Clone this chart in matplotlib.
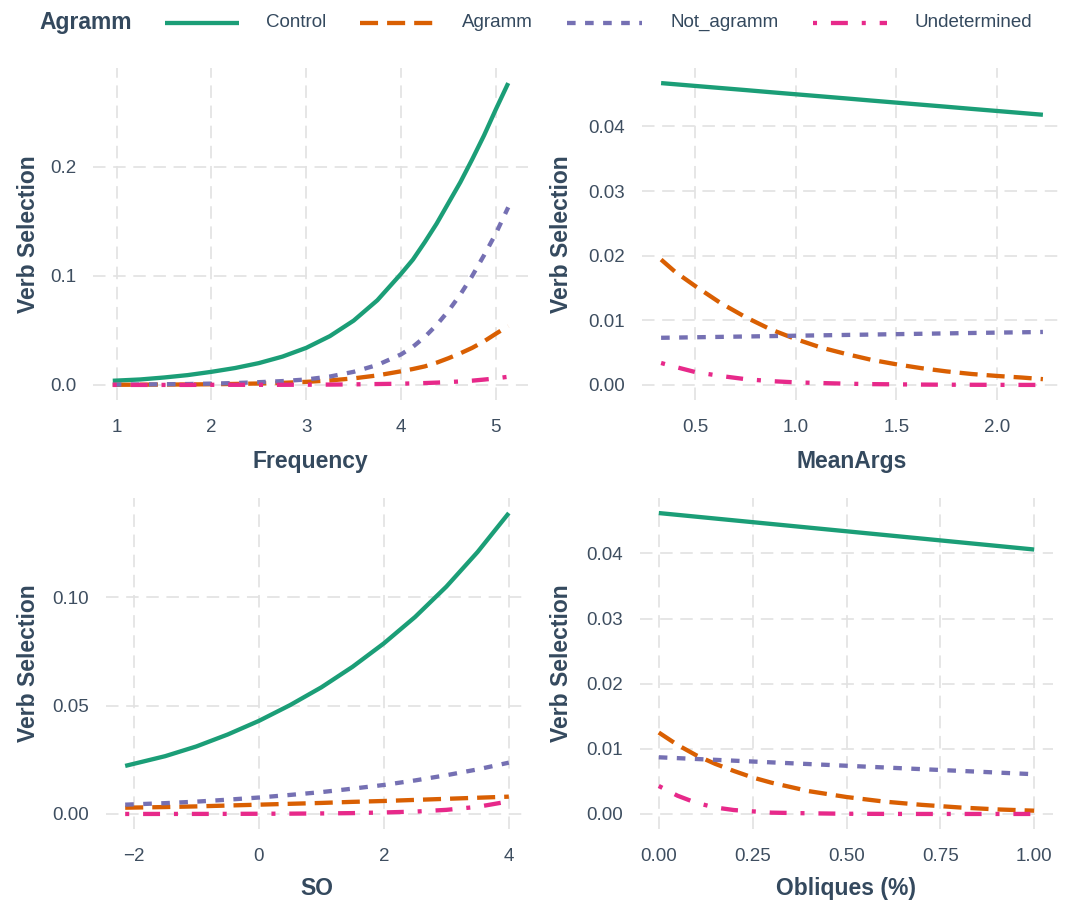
import matplotlib
matplotlib.use("Agg")
import matplotlib.pyplot as plt
import matplotlib.ticker as mticker
from matplotlib.lines import Line2D

plt.rcParams['font.family'] = ['Liberation Sans', 'DejaVu Sans']
plt.rcParams['lines.scale_dashes'] = False

# ---------------- data ----------------
groups = ["Control", "Agramm", "Not_agramm", "Undetermined"]

freq_x = [0.96, 1.25, 1.5, 1.75, 2.0, 2.25, 2.5, 2.75, 3.0, 3.25, 3.5, 3.75,
          4.0, 4.125, 4.25, 4.375, 4.5, 4.625, 4.75, 4.875, 5.0, 5.13]
freq_control = [0.0038, 0.005, 0.0068, 0.009, 0.012, 0.0155, 0.020, 0.026, 0.034, 0.0448, 0.059, 0.0777,
                0.102, 0.115, 0.131, 0.148, 0.167, 0.186, 0.207, 0.229, 0.253, 0.277]
freq_agramm = [0.0001, 0.0002, 0.0003, 0.0004, 0.0006, 0.0009, 0.0013, 0.0019, 0.0028, 0.0041, 0.006, 0.0087,
               0.0125, 0.0146, 0.017, 0.0204, 0.0245, 0.029, 0.034, 0.040, 0.047, 0.054]
freq_notagr = [0.0003, 0.0004, 0.0006, 0.0008, 0.0012, 0.0017, 0.0025, 0.0035, 0.005, 0.0077, 0.012, 0.0183,
               0.028, 0.035, 0.044, 0.055, 0.068, 0.083, 0.100, 0.119, 0.139, 0.163]
freq_undet = [0.0, 0.0, 0.0, 0.0, 0.0001, 0.0001, 0.0001, 0.0001, 0.0002, 0.0003, 0.0005, 0.0008,
              0.0011, 0.0014, 0.0017, 0.0021, 0.0026, 0.0032, 0.0039, 0.0049, 0.006, 0.0075]

args_x = [0.33, 0.4, 0.5, 0.625, 0.75, 0.875, 1.0, 1.125, 1.25, 1.375, 1.5,
          1.625, 1.75, 1.875, 2.0, 2.125, 2.23]
args_control = [0.04670, 0.04652, 0.04626, 0.04594, 0.04562, 0.04529, 0.04497, 0.04465, 0.04433, 0.04400,
                0.04368, 0.04336, 0.04304, 0.04271, 0.04239, 0.04207, 0.04180]
args_agramm = [0.0194, 0.0175, 0.0153, 0.0127, 0.0105, 0.0086, 0.0071, 0.0058, 0.0048, 0.0039, 0.0032,
               0.0026, 0.0021, 0.0017, 0.0014, 0.00115, 0.0009]
args_notagr = [0.00730, 0.00733, 0.00738, 0.00744, 0.00750, 0.00756, 0.00762, 0.00768, 0.00774, 0.00780,
               0.00786, 0.00792, 0.00798, 0.00804, 0.00810, 0.00815, 0.00820]
args_undet = [0.0034, 0.0028, 0.0020, 0.0014, 0.0009, 0.0006, 0.0004, 0.0003, 0.0002, 0.00013, 0.0001,
              0.00006, 0.00004, 0.00003, 0.00002, 0.00001, 0.00001]

so_x = [-2.14, -1.5, -1.0, -0.5, 0.0, 0.5, 1.0, 1.5, 2.0, 2.5, 3.0, 3.5, 4.0]
so_control = [0.0222, 0.0267, 0.0312, 0.0367, 0.043, 0.0503, 0.0585, 0.068, 0.0788, 0.091, 0.105, 0.121, 0.139]
so_agramm = [0.0029, 0.0032, 0.0035, 0.0039, 0.0043, 0.0047, 0.0051, 0.0056, 0.0060, 0.0065, 0.0070, 0.0075, 0.0080]
so_notagr = [0.0043, 0.0050, 0.0057, 0.0066, 0.0076, 0.0088, 0.0101, 0.0117, 0.0134, 0.0155, 0.0179, 0.0206, 0.0237]
so_undet = [0.00001, 0.00002, 0.00003, 0.00005, 0.0001, 0.00015, 0.00025, 0.0004, 0.0007, 0.0011, 0.0019, 0.0033, 0.0058]

obl_x = [0.0, 0.05, 0.1, 0.15, 0.2, 0.25, 0.3, 0.4, 0.5, 0.6, 0.7, 0.8, 0.9, 1.0]
obl_control = [0.04620, 0.04592, 0.04564, 0.04536, 0.04508, 0.04480, 0.04452, 0.04396, 0.04340, 0.04284,
               0.04228, 0.04172, 0.04116, 0.04060]
obl_agramm = [0.0125, 0.0106, 0.0090, 0.0077, 0.0066, 0.0056, 0.0048, 0.0035, 0.0026, 0.0019, 0.0014, 0.0010, 0.0007, 0.0005]
obl_notagr = [0.00870, 0.00857, 0.00844, 0.00831, 0.00818, 0.00805, 0.00792, 0.00766, 0.00740, 0.00714,
              0.00688, 0.00662, 0.00636, 0.00610]
obl_undet = [0.0043, 0.0028, 0.0017, 0.0010, 0.0006, 0.0004, 0.0002, 0.0001, 0.00003, 0.00001, 0.0, 0.0, 0.0, 0.0]

x_labels = ["Frequency", "MeanArgs", "SO", "Obliques (%)"]
y_label = "Verb Selection"

# ---------------- styling ----------------
W, H = 1067, 901
colors = ["#1B9E77", "#D95F02", "#7570B3", "#E7298A"]
LW = 3.1
styles = ["-", (0, (13, 6.5)), (0, (6.2, 6.8)), (0, (2.9, 10, 12.2, 10))]
TXT = "#34495E"
TICK = "#3E4E60"
GRID = "#E2E2E2"

fig = plt.figure(figsize=(W / 100, H / 100), dpi=100)
fig.patch.set_facecolor("white")


def rect(l, r, t, b):
    return [l / W, 1 - b / H, (r - l) / W, (b - t) / H]


def fmt(spec):
    return mticker.FuncFormatter(lambda v, pos: (spec % v).replace("-", "\u2212"))


panels = [
    dict(pos=rect(93, 528, 68, 400), x=freq_x,
         ys=[freq_control, freq_agramm, freq_notagr, freq_undet],
         xt=1.0, yt=0.1, xf="%d", yf="%.1f", ylab_x=-0.122, xlab_y=-0.152),
    dict(pos=rect(642, 1062, 68, 400), x=args_x,
         ys=[args_control, args_agramm, args_notagr, args_undet],
         xt=0.5, yt=0.01, xf="%.1f", yf="%.2f", ylab_x=-0.164, xlab_y=-0.152),
    dict(pos=rect(106, 528, 498, 829), x=so_x,
         ys=[so_control, so_agramm, so_notagr, so_undet],
         xt=2.0, yt=0.05, xf="%d", yf="%.2f", ylab_x=-0.156, xlab_y=-0.145),
    dict(pos=rect(640, 1053, 498, 829), x=obl_x,
         ys=[obl_control, obl_agramm, obl_notagr, obl_undet],
         xt=0.25, yt=0.01, xf="%.2f", yf="%.2f", ylab_x=-0.162, xlab_y=-0.145),
]

for i, p in enumerate(panels):
    ax = fig.add_axes(p["pos"])
    ax.set_facecolor("white")
    for ys, c, ls in zip(p["ys"], colors, styles):
        ax.plot(p["x"], ys, color=c, lw=LW, linestyle=ls,
                solid_capstyle="butt", dash_capstyle="butt",
                solid_joinstyle="round", dash_joinstyle="round")
    ax.margins(x=0.05, y=0.05)
    ax.xaxis.set_major_locator(mticker.MultipleLocator(p["xt"]))
    ax.yaxis.set_major_locator(mticker.MultipleLocator(p["yt"]))
    ax.xaxis.set_major_formatter(fmt(p["xf"]))
    ax.yaxis.set_major_formatter(fmt(p["yf"]))
    ax.grid(True, color=GRID, lw=1.2, linestyle=(0, (9, 5.5)))
    ax.set_axisbelow(True)
    for s in ax.spines.values():
        s.set_visible(False)
    ax.tick_params(axis="both", length=0, labelsize=13.5, labelcolor=TICK)
    ax.tick_params(axis="y", pad=12)
    ax.tick_params(axis="x", pad=13.5)
    ax.set_xlabel(x_labels[i], fontsize=16.5, fontweight="bold", color=TXT)
    ax.set_ylabel(y_label, fontsize=16.5, fontweight="bold", color=TXT)
    ax.yaxis.set_label_coords(p["ylab_x"], 0.5)
    ax.xaxis.set_label_coords(0.5, p["xlab_y"])

# ---------------- legend (top) ----------------
ly = 1 - 22.7 / H
fig.text(39 / W, ly, "Agramm", fontsize=16.5, fontweight="bold", color=TXT,
         ha="left", va="center")
handles = [(165, 239, 266), (360, 433, 462), (567, 642, 670), (813, 887, 915)]
for (x0, x1, xt), c, ls, g in zip(handles, colors, styles, groups):
    fig.add_artist(Line2D([x0 / W, x1 / W], [ly, ly], transform=fig.transFigure,
                          color=c, lw=LW, linestyle=ls,
                          solid_capstyle="butt", dash_capstyle="butt"))
    fig.text(xt / W, ly, g, fontsize=13.5, color=TXT, ha="left", va="center")

fig.savefig("out.png", dpi=100, facecolor="white")
